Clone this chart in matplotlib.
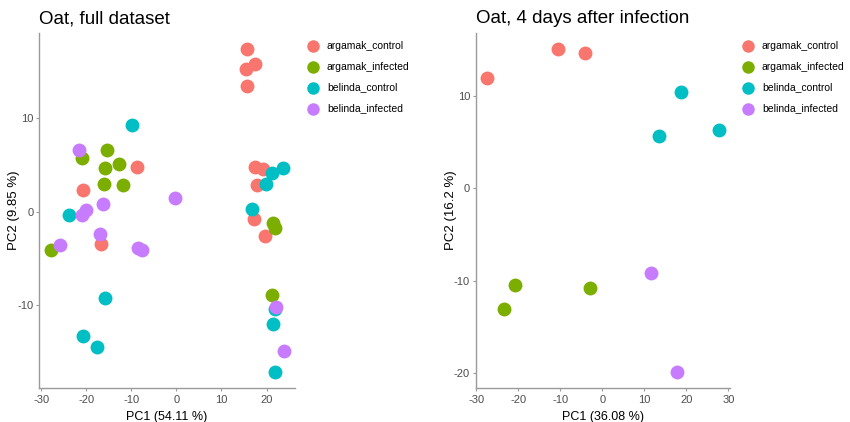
import matplotlib.pyplot as plt

plt.rcParams['font.family'] = ['Liberation Sans', 'DejaVu Sans']
plt.rcParams['axes.unicode_minus'] = False

groups = ['argamak_control', 'argamak_infected', 'belinda_control', 'belinda_infected']
colors = ['#F8766D', '#7CAE00', '#00BFC4', '#C77CFF']

# full dataset (PC1, PC2)
full_ac_x = [15.6, 15.55, 17.4, 15.6, 17.4, 19.3, 17.9, -8.75, -20.75, 17.2, -16.6, 19.55]
full_ac_y = [17.4, 15.3, 15.8, 13.5, 4.76, 4.54, 2.86, 4.79, 2.36, -0.75, -3.5, -2.57]
full_ai_x = [-20.9, -15.4, -15.9, -12.75, -16.0, -11.9, -27.9, 21.5, 21.8, 21.25]
full_ai_y = [5.79, 6.65, 4.68, 5.1, 2.93, 2.83, -4.1, -1.25, -1.8, -8.93]
full_bc_x = [-9.8, 23.55, 21.3, 19.85, 16.7, -23.7, -15.9, -20.7, -17.5, 21.9, 21.4, 21.9]
full_bc_y = [9.33, 4.68, 4.11, 3.0, 0.29, -0.32, -9.25, -13.35, -14.5, -10.4, -12.0, -17.15]
full_bi_x = [-21.55, -0.38, -16.2, -20.0, -21.0, -25.8, -16.9, -8.5, -7.56, 22.1, 23.8]
full_bi_y = [6.61, 1.43, 0.83, 0.18, -0.39, -3.57, -2.39, -3.86, -4.1, -10.2, -14.9]

# 4 days after infection
d4_ac_x = [-27.5, -10.6, -4.05]
d4_ac_y = [11.9, 15.1, 14.6]
d4_ai_x = [-20.75, -23.5, -3.03]
d4_ai_y = [-10.5, -13.1, -10.83]
d4_bc_x = [18.8, 13.4, 27.9]
d4_bc_y = [10.36, 5.63, 6.35]
d4_bi_x = [11.6, 17.8]
d4_bi_y = [-9.18, -19.87]

fig = plt.figure(figsize=(8.5, 4.22), dpi=100)
ax1 = fig.add_axes([0.0462, 0.0813, 0.3008, 0.8405])
ax2 = fig.add_axes([0.5596, 0.0813, 0.2992, 0.8405])

panels = [
    (ax1, [(full_ac_x, full_ac_y), (full_ai_x, full_ai_y), (full_bc_x, full_bc_y), (full_bi_x, full_bi_y)],
     'Oat, full dataset', 'PC1 (54.11 %)', 'PC2 (9.85 %)',
     (-30.4, 26.3), (-18.86, 19.15), [-30, -20, -10, 0, 10, 20], [-10, 0, 10], -0.0755),
    (ax2, [(d4_ac_x, d4_ac_y), (d4_ai_x, d4_ai_y), (d4_bc_x, d4_bc_y), (d4_bi_x, d4_bi_y)],
     'Oat, 4 days after infection', 'PC1 (36.08 %)', 'PC2 (16.2 %)',
     (-30.2, 30.4), (-21.6, 16.8), [-30, -20, -10, 0, 10, 20, 30], [-20, -10, 0, 10], -0.0735),
]

for ax, data, title, xl, yl, xlim, ylim, xt, yt, ylx in panels:
    for (x, y), c, g in zip(data, colors, groups):
        ax.scatter(x, y, s=100, color=c, label=g, linewidths=0, zorder=3)
    ax.set_xlim(*xlim)
    ax.set_ylim(*ylim)
    ax.set_xticks(xt)
    ax.set_yticks(yt)
    ax.spines['top'].set_visible(False)
    ax.spines['right'].set_visible(False)
    for s in ['left', 'bottom']:
        ax.spines[s].set_color('#9a9a9a')
        ax.spines[s].set_linewidth(1.0)
    ax.tick_params(colors='#9a9a9a', labelcolor='#4D4D4D', labelsize=8, length=2.5, width=0.8, pad=1.5)
    ax.tick_params(axis='x', pad=3)
    ax.set_title(title, loc='left', fontsize=13.5, x=0.0, pad=7)
    ax.set_xlabel(xl, fontsize=9, labelpad=4)
    ax.set_ylabel(yl, fontsize=9.5)
    ax.yaxis.set_label_coords(ylx, 0.5)
    ax.legend(loc='upper left', bbox_to_anchor=(1.015, 0.99), frameon=False, fontsize=7.5,
              handletextpad=0.3, labelspacing=1.05, borderaxespad=0.0, markerscale=0.9)

fig.savefig('out.png', dpi=100)
